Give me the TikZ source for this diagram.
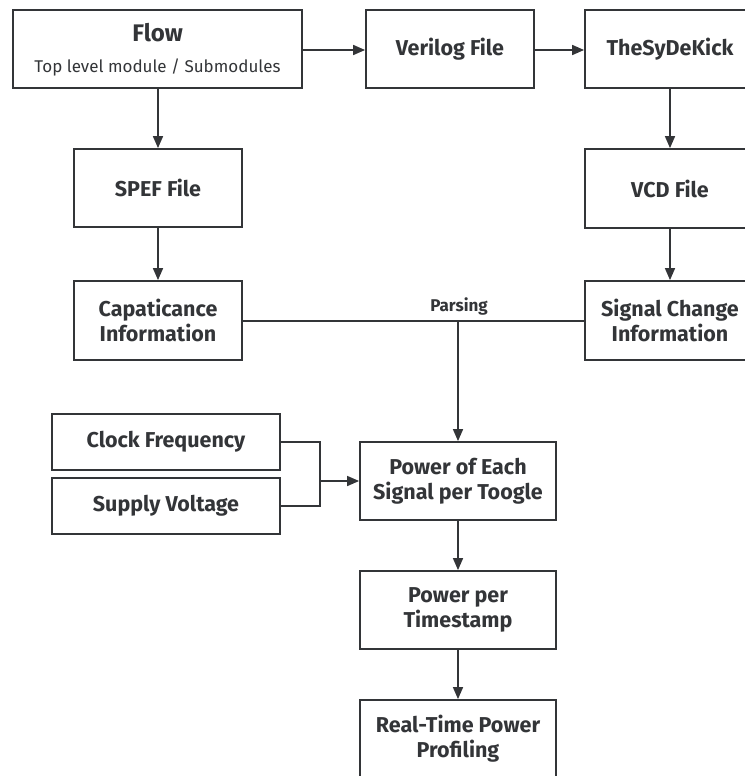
\documentclass[tikz,border=0pt]{standalone}
\usepackage{fontspec}
\setmainfont{Fira Sans}
\usetikzlibrary{arrows.meta}
\definecolor{ink}{HTML}{333538}
\tikzset{
  box/.style={draw=ink, line width=1.8pt, fill=white, text=ink, align=center,
    inner sep=0pt, font=\fontsize{21.5}{25}\selectfont\bfseries},
  link/.style={draw=ink, line width=1.6pt},
  arrow/.style={link, -{Triangle[length=12pt,width=10pt]}},
}
\begin{document}
\begin{tikzpicture}[x=1pt,y=-1pt]
\useasboundingbox (0,0) rectangle (744,776);
\fill[white] (0,0) rectangle (744,776);

% top row
\node[box, minimum width=289pt, minimum height=78pt] (flow) at (157.5,49) {};
\node[text=ink, font=\fontsize{24}{26}\selectfont\bfseries] (flowt) at (157.5,33) {Flow};
\node[text=ink, font=\fontsize{17}{20}\selectfont] (flows) at (157.5,67) {Top level module / Submodules};
\node[box, minimum width=168pt, minimum height=78pt] (verilog) at (450,49) {Verilog File};
\node[box, minimum width=170pt, minimum height=78pt] (kick) at (670,49) {TheSyDeKick};

% file row
\node[box, minimum width=168pt, minimum height=78pt] (spef) at (158,188) {SPEF File};
\node[box, minimum width=170pt, minimum height=79pt] (vcd) at (670,188.5) {VCD File};

% extracted information
\node[box, minimum width=168pt, minimum height=79pt] (cap) at (158,320.5) {Capaticance\\Information};
\node[box, minimum width=170pt, minimum height=79pt] (sig) at (670,320.5) {Signal Change\\Information};

% constant inputs
\node[box, minimum width=228pt, minimum height=56pt] (clock) at (166,442) {Clock Frequency};
\node[box, minimum width=228pt, minimum height=56pt] (supply) at (166,506) {Supply Voltage};

% power computation chain
\node[box, minimum width=196pt, minimum height=78pt] (psig) at (458,481) {Power of Each\\Signal per Toogle};
\node[box, minimum width=196pt, minimum height=78pt] (pts) at (458,610) {Power per\\Timestamp};
\node[box, minimum width=196pt, minimum height=78pt] (rtp) at (458,739) {Real-Time Power\\Profiling};

% connectors
\draw[arrow] (flow.east |- 0,50) -- (verilog.west |- 0,50);
\draw[arrow] (verilog.east |- 0,50) -- (kick.west |- 0,50);
\draw[arrow] (flow.south -| spef.north) -- (spef.north);
\draw[arrow] (kick.south) -- (vcd.north);
\draw[arrow] (spef.south) -- (cap.north);
\draw[arrow] (vcd.south) -- (sig.north);

\coordinate (parse) at (458,321);
\draw[link] (cap.east |- parse) -- (sig.west |- parse);
\node[text=ink, font=\fontsize{17}{20}\selectfont\bfseries] (parselbl) at (459,306) {Parsing};
\draw[arrow] (parse) -- (parse |- psig.north);

\coordinate (merge) at (320,481);
\draw[link] (clock.east) -| (merge) |- (supply.east);
\draw[arrow] (merge) -- (psig.west |- merge);

\draw[arrow] (psig.south) -- (pts.north);
\draw[arrow] (pts.south) -- (rtp.north);
\end{tikzpicture}
\end{document}
